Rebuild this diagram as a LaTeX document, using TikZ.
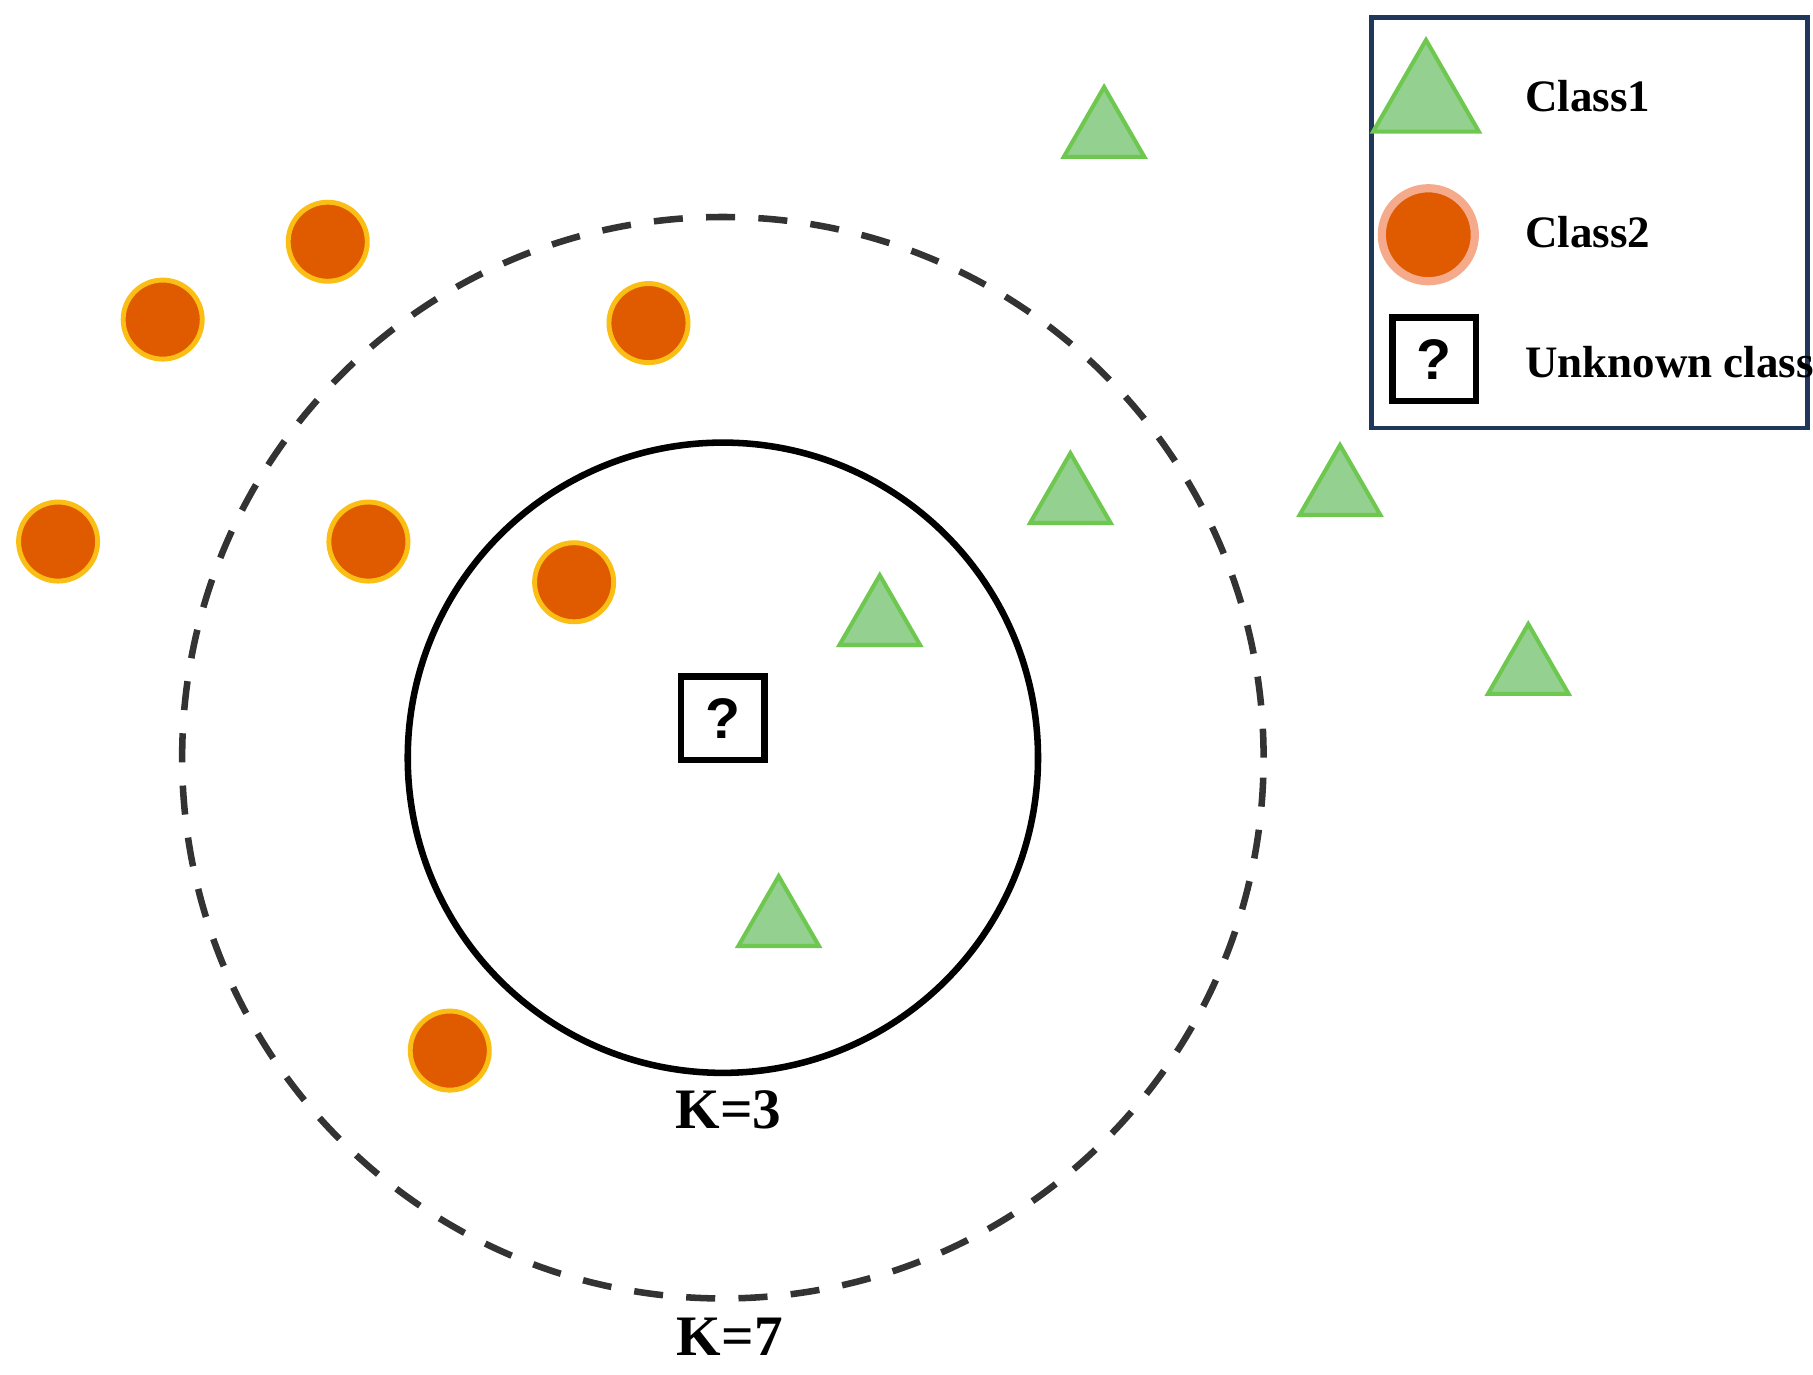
\documentclass[tikz,border=0pt]{standalone}
\usepackage{fontspec}
\setmainfont{Liberation Serif}
\setsansfont{Liberation Sans}
\usetikzlibrary{shapes.geometric}
\begin{document}
\begin{tikzpicture}[x=0.01cm,y=-0.01cm,
  dot/.style={circle,line width=1.2pt,minimum size=0.68cm,inner sep=0pt,fill={rgb,255:red,224;green,90;blue,0},draw={rgb,255:red,250;green,190;blue,20}},
  tri/.style={regular polygon,regular polygon sides=3,line width=1pt,inner sep=0pt,minimum size=0.8cm,fill={rgb,255:red,148;green,208;blue,143},draw={rgb,255:red,110;green,200;blue,80}},
  lbl/.style={font=\bfseries\fontsize{11}{13}\selectfont,anchor=west},
  klbl/.style={font=\bfseries\fontsize{14}{16}\selectfont}]
\useasboundingbox (0,0) rectangle (1560,1183);
\draw[line width=1.6pt,dash pattern=on 0.25cm off 0.2cm,draw=black!80] (622,652) circle[radius=4.65cm];
\draw[line width=1.6pt] (622,652) circle[radius=2.71cm];
\node[draw,line width=1.6pt,minimum size=0.72cm,font=\sffamily\bfseries\fontsize{14}{16}\selectfont] (q) at (622,618) {?};
\node[klbl] (k3) at (627,955) {K=3};
\node[klbl] (k7) at (628,1150) {K=7};
\foreach \n/\x/\y in {a/282/208,b/140/275,c/558/278,d/50/466,e/317/466,f/494/501,g/387/904}
  \node[dot] (\n) at (\x,\y) {};
\foreach \n/\x/\y in {t1/950/115,t2/921/430,t3/1153/423,t4/757/535,t5/1315/577,t6/670/794}
  \node[tri] (\n) at (\x,\y) {};
\node[draw={rgb,255:red,30;green,55;blue,90},line width=1.2pt,minimum width=3.75cm,minimum height=3.53cm,anchor=north west] (leg) at (1178,13) {};
\node[tri,minimum size=1.05cm] (lt) at (1227,87) {};
\node[dot,minimum size=0.8cm,draw={rgb,255:red,245;green,170;blue,140},line width=2pt] (lc) at (1229,202) {};
\node[draw,line width=1.6pt,minimum size=0.72cm,font=\sffamily\bfseries\fontsize{14}{16}\selectfont] (lq) at (1234,309) {?};
\node[lbl] (l1) at (1300,83) {Class1};
\node[lbl] (l2) at (1300,200) {Class2};
\node[lbl] (l3) at (1300,312) {Unknown class};
\end{tikzpicture}
\end{document}
